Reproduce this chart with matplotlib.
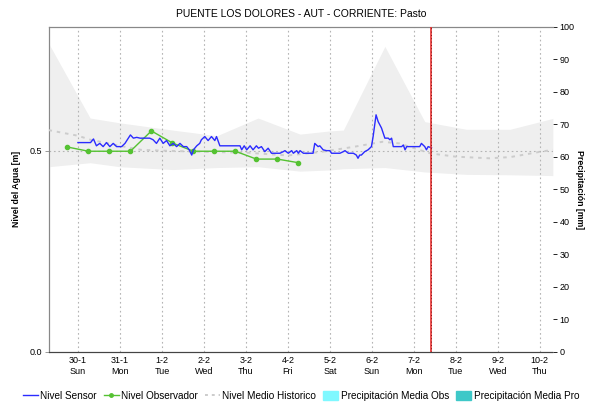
import matplotlib
matplotlib.use("Agg")
import matplotlib.pyplot as plt
from matplotlib.lines import Line2D
from matplotlib.patches import Patch

plt.rcParams['font.family'] = ['Liberation Sans', 'DejaVu Sans']

# x values are days counted from 30-1 00:00
day_labels = ['30-1\nSun', '31-1\nMon', '1-2\nTue', '2-2\nWed', '3-2\nThu', '4-2\nFri',
              '5-2\nSat', '6-2\nSun', '7-2\nMon', '8-2\nTue', '9-2\nWed', '10-2\nThu']
x_start, x_end = -0.69, 11.31
now_day = 8.40

sensor_t = [0.00, 0.25, 0.30, 0.37, 0.44, 0.52, 0.60, 0.68, 0.76, 0.84, 0.92, 1.04, 1.12, 1.20,
            1.25, 1.32, 1.40, 1.48, 1.71, 1.79, 1.87, 1.95, 2.03, 2.11, 2.19, 2.27, 2.35, 2.43,
            2.51, 2.59, 2.65, 2.71, 2.75, 2.83, 2.90, 2.94, 3.02, 3.10, 3.18, 3.26, 3.30, 3.38,
            3.86, 3.90, 3.96, 4.02, 4.10, 4.17, 4.25, 4.30, 4.37, 4.45, 4.53, 4.61, 4.69, 4.81,
            4.89, 4.93, 5.01, 5.09, 5.13, 5.21, 5.25, 5.29, 5.37, 5.60, 5.64, 5.72, 5.76, 5.84,
            5.92, 6.00, 6.04, 6.16, 6.24, 6.32, 6.36, 6.44, 6.56, 6.63, 6.67, 6.71, 6.75, 6.83,
            6.91, 6.99, 7.03, 7.10, 7.15, 7.23, 7.31, 7.39, 7.43, 7.47, 7.51, 7.71, 7.75, 7.79,
            7.83, 8.14, 8.18, 8.26, 8.30, 8.34, 8.42]
sensor_v = [0.520, 0.520, 0.520, 0.529, 0.512, 0.518, 0.510, 0.520, 0.510, 0.518, 0.510, 0.510,
            0.518, 0.531, 0.539, 0.531, 0.533, 0.531, 0.531, 0.527, 0.518, 0.531, 0.518, 0.525,
            0.512, 0.518, 0.510, 0.518, 0.510, 0.510, 0.502, 0.489, 0.502, 0.512, 0.518, 0.527,
            0.535, 0.525, 0.535, 0.525, 0.535, 0.512, 0.512, 0.502, 0.512, 0.502, 0.512, 0.502,
            0.512, 0.506, 0.510, 0.4975, 0.506, 0.4935, 0.4935, 0.4935, 0.4975, 0.500, 0.4935,
            0.500, 0.4935, 0.500, 0.4935, 0.500, 0.4935, 0.4935, 0.518, 0.510, 0.512, 0.502,
            0.500, 0.500, 0.4935, 0.4935, 0.4935, 0.4975, 0.500, 0.4935, 0.4935, 0.489, 0.481,
            0.489, 0.489, 0.4975, 0.502, 0.510, 0.535, 0.589, 0.572, 0.556, 0.531, 0.531, 0.527,
            0.531, 0.510, 0.510, 0.514, 0.502, 0.510, 0.510, 0.518, 0.510, 0.502, 0.510, 0.507]

obs_t = [-0.25, 0.25, 0.75, 1.25, 1.75, 2.25, 2.75, 3.25, 3.75, 4.25, 4.75, 5.25]
obs_v = [0.509, 0.4985, 0.4985, 0.4985, 0.549, 0.519, 0.4985, 0.4985, 0.4985, 0.479, 0.479, 0.470]

mean_t = [-0.70, 0.00, 0.30, 1.00, 1.50, 2.00, 3.00, 4.00, 5.00, 5.80, 6.60, 7.25, 7.65, 8.40,
          9.00, 9.80, 10.30, 11.00, 11.31]
mean_v = [0.551, 0.537, 0.527, 0.512, 0.502, 0.500, 0.497, 0.495, 0.488, 0.497, 0.510, 0.522,
          0.518, 0.493, 0.485, 0.481, 0.484, 0.497, 0.502]

band_t = [-0.70, 0.29, 1.00, 2.26, 3.31, 4.29, 5.29, 6.00, 6.32, 7.31, 8.26, 9.25, 10.29, 11.31]
band_hi = [0.767, 0.581, 0.569, 0.551, 0.537, 0.581, 0.541, 0.549, 0.551, 0.759, 0.572, 0.553,
           0.553, 0.580]
band_lo = [0.460, 0.470, 0.460, 0.453, 0.458, 0.460, 0.449, 0.452, 0.455, 0.458, 0.447, 0.441,
           0.440, 0.438]

fig = plt.figure(figsize=(5.9, 4.04), dpi=100)
ax = fig.add_axes([0.083, 0.129, 0.854, 0.805])
ax2 = ax.twinx()
ax.set_zorder(ax2.get_zorder() + 1)
ax.patch.set_visible(False)

ax.fill_between(band_t, band_lo, band_hi, color='#efefef', lw=0, zorder=1)
for d in range(len(day_labels)):
    ax.axvline(d, color='#b4b4b4', lw=0.8, ls=(0, (1.5, 2.5)), zorder=2)
ax.axhline(0.5, color='#b4b4b4', lw=0.8, ls=(0, (1.5, 2.5)), zorder=2)
ax.plot(mean_t, mean_v, color='#cccccc', lw=1.4, ls=(0, (1.8, 2.5)), zorder=3)
ax.plot(obs_t, obs_v, color='#55c232', lw=1, marker='o', ms=3, zorder=4)
ax.plot(sensor_t, sensor_v, color='#2b2bff', lw=1, zorder=5)
ax.axvline(now_day, color='#e53030', lw=1.2, zorder=6)
ax.axvline(now_day, color='#600000', lw=0.6, ls=(0, (1, 3)), zorder=7)

ax.set_xlim(x_start, x_end)
ax.set_ylim(0, 0.808)
ax.set_xticks(range(len(day_labels)))
ax.set_xticklabels(day_labels, fontsize=6.5, linespacing=1.3)
ax.set_yticks([0.0, 0.5])
ax.set_yticklabels(['0.0', '0.5'], fontsize=6.5)
ax.tick_params(axis='x', length=0, pad=3)
ax.tick_params(axis='y', length=3, width=0.6, color='#888888', pad=2)
ax.set_ylabel('Nivel del Agua [m]', fontsize=6.3, fontweight='bold', labelpad=6)

ax2.set_ylim(0, 100)
ax2.set_yticks(range(0, 101, 10))
ax2.tick_params(axis='y', labelsize=6.5, length=3, width=0.6, pad=2)
ax2.set_ylabel('Precipitación [mm]', fontsize=6.3, fontweight='bold', rotation=-90, labelpad=7)

for a in (ax, ax2):
    a.spines['left'].set_color('#888888')
    a.spines['top'].set_color('#888888')
    a.spines['right'].set_visible(False)
    a.spines['bottom'].set_linestyle((0, (1, 1)))
    a.spines['bottom'].set_color('#444444')

ax.set_title('PUENTE LOS DOLORES - AUT - CORRIENTE: Pasto', fontsize=7.5, pad=7)

handles = [Line2D([], [], color='#2b2bff', lw=1),
           Line2D([], [], color='#55c232', lw=1, marker='o', ms=2.5),
           Line2D([], [], color='#cccccc', lw=1.4, ls=(0, (1.5, 2))),
           Patch(color='#7ff8ff'),
           Patch(color='#3ec8c8')]
labels = ['Nivel Sensor', 'Nivel Observador', 'Nivel Medio Historico',
          'Precipitación Media Obs', 'Precipitación Media Pro']
fig.legend(handles, labels, loc='center', bbox_to_anchor=(0.51, 0.02), ncol=5, frameon=False,
           fontsize=7.2, handlelength=1.5, handletextpad=0.25, columnspacing=0.7,
           handleheight=0.9, borderpad=0.1)

fig.savefig('out.png', dpi=100)
